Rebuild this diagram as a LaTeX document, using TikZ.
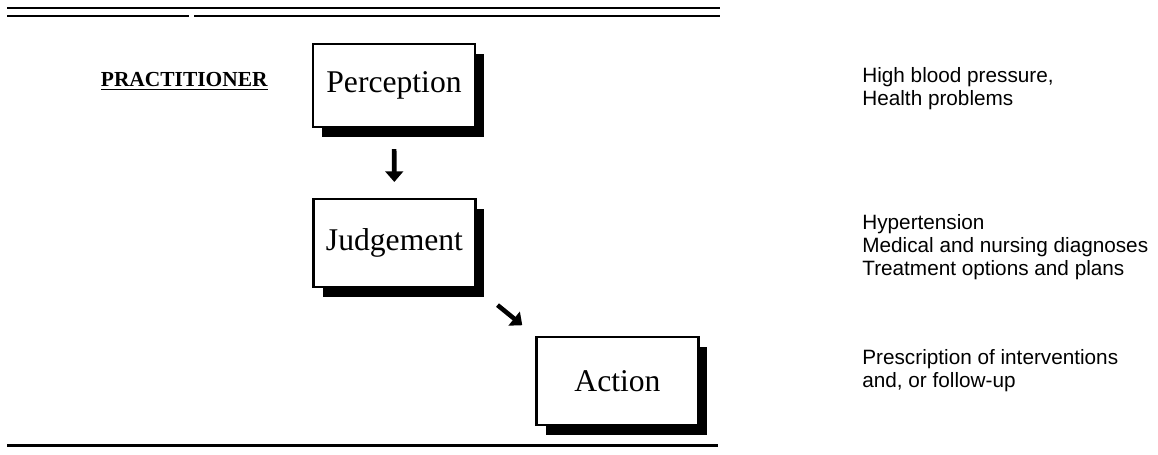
\documentclass[tikz,border=0pt]{standalone}
\usepackage{fontspec}
\setmainfont{Liberation Serif}
\newfontfamily\notefont{Liberation Sans}
\usetikzlibrary{positioning,arrows.meta,shadows}

\begin{document}
\begin{tikzpicture}[x=0.02cm,y=-0.02cm,
      box/.style={draw,line width=1.2pt,fill=white,minimum width=3.24cm,minimum height=1.76cm,inner sep=0pt,
        font=\fontsize{18}{20}\selectfont,
        drop shadow={shadow xshift=0.18cm,shadow yshift=-0.2cm,fill=black,opacity=1}},
      note/.style={anchor=west,align=left,inner sep=0pt,font=\notefont\fontsize{11.8}{13.2}\selectfont},
      arr/.style={-{Triangle[length=6pt,width=10pt]},line width=2.6pt},
      rule/.style={line width=1.7pt}]
    \useasboundingbox (0,0) rectangle (1158,454);
    % rules top and bottom
    \draw[rule] (7,8) -- (720,8);
    \draw[rule] (7,16) -- (189,16);
    \draw[rule] (194,16) -- (720,16);
    \draw[rule] (7,445) -- (718,445);
    % the three stages
    \node[anchor=east,inner sep=0pt,font=\fontsize{12.2}{14}\selectfont\bfseries] (role) at (268,81) {\underline{PRACTITIONER}};
    \node[box,minimum height=1.66cm] (perc) at (394,85.5) {Perception};
    \node[box] (judg) at (394.5,243) {Judgement};
    \node[box] (act) at (617.5,381) {Action};
    \draw[arr,shorten <=0.42cm,shorten >=0.32cm] (perc) -- (judg);
    \draw[arr,shorten <=0.54cm,shorten >=0.34cm] (judg.south east) -- (act.north west);
    % what each stage covers
    \node[note] (perctxt) at (862,89) {High blood pressure,\\Health problems};
    \node[note] (judgtxt) at (862,247) {Hypertension\\Medical and nursing diagnoses\\Treatment options and plans};
    \node[note] (acttxt) at (862,371) {Prescription of interventions\\and, or follow-up};
  \end{tikzpicture}
\end{document}
